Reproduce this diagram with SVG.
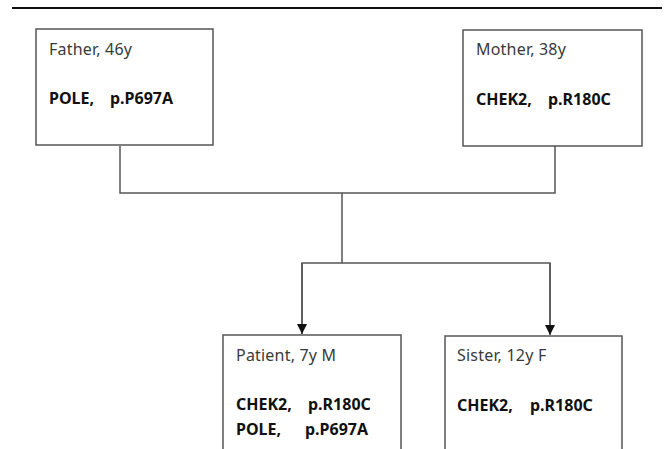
<svg xmlns="http://www.w3.org/2000/svg" width="669" height="449" viewBox="0 0 669 449">
<style>
.box{fill:#fff;stroke:#555;stroke-width:1.5}
.lbl{font-family:"Noto Sans","Liberation Sans",sans-serif;font-size:16px;letter-spacing:0.2px;fill:#3a3a3a}
.gene{font-family:"Noto Sans","Liberation Sans",sans-serif;font-size:16px;font-weight:bold;fill:#111}
.conn{fill:none;stroke:#555;stroke-width:1.5}
</style>
<defs>
<marker id="arr" viewBox="0 0 10 10" refX="10" refY="5" markerWidth="10" markerHeight="10" markerUnits="userSpaceOnUse" orient="auto">
<path d="M0,0 L10,5 L0,10 Z" fill="#111"/>
</marker>
</defs>
<rect width="669" height="449" fill="#fff"/>
<line x1="12" y1="8" x2="662" y2="8" stroke="#111" stroke-width="2.2"/>
<g id="connectors">
<polyline class="conn" points="120,146 120,193 555,193 555,146"/>
<line class="conn" x1="342" y1="193" x2="342" y2="263"/>
<polyline class="conn" points="302,334 302,263 550,263 550,334"/>
<line class="conn" x1="302" y1="263" x2="302" y2="334" stroke="#111" marker-end="url(#arr)"/>
<line class="conn" x1="550" y1="263" x2="550" y2="335" stroke="#111" marker-end="url(#arr)"/>
</g>
<g id="father">
<rect class="box" x="36" y="29" width="177" height="116"/>
<text class="lbl" x="49" y="55">Father, 46y</text>
<text class="gene" y="104"><tspan x="49">POLE,</tspan><tspan x="110">p.P697A</tspan></text>
</g>
<g id="mother">
<rect class="box" x="463" y="30" width="179" height="116"/>
<text class="lbl" x="476" y="55">Mother, 38y</text>
<text class="gene" y="105"><tspan x="476">CHEK2,</tspan><tspan x="548">p.R180C</tspan></text>
</g>
<g id="patient">
<rect class="box" x="223" y="335" width="178" height="130"/>
<text class="lbl" x="236" y="361">Patient, 7y M</text>
<text class="gene" y="410"><tspan x="236">CHEK2,</tspan><tspan x="308">p.R180C</tspan></text>
<text class="gene" y="435"><tspan x="236">POLE,</tspan><tspan x="305">p.P697A</tspan></text>
</g>
<g id="sister">
<rect class="box" x="445" y="336" width="177" height="130"/>
<text class="lbl" x="457" y="361">Sister, 12y F</text>
<text class="gene" y="411"><tspan x="457">CHEK2,</tspan><tspan x="530">p.R180C</tspan></text>
</g>
</svg>
